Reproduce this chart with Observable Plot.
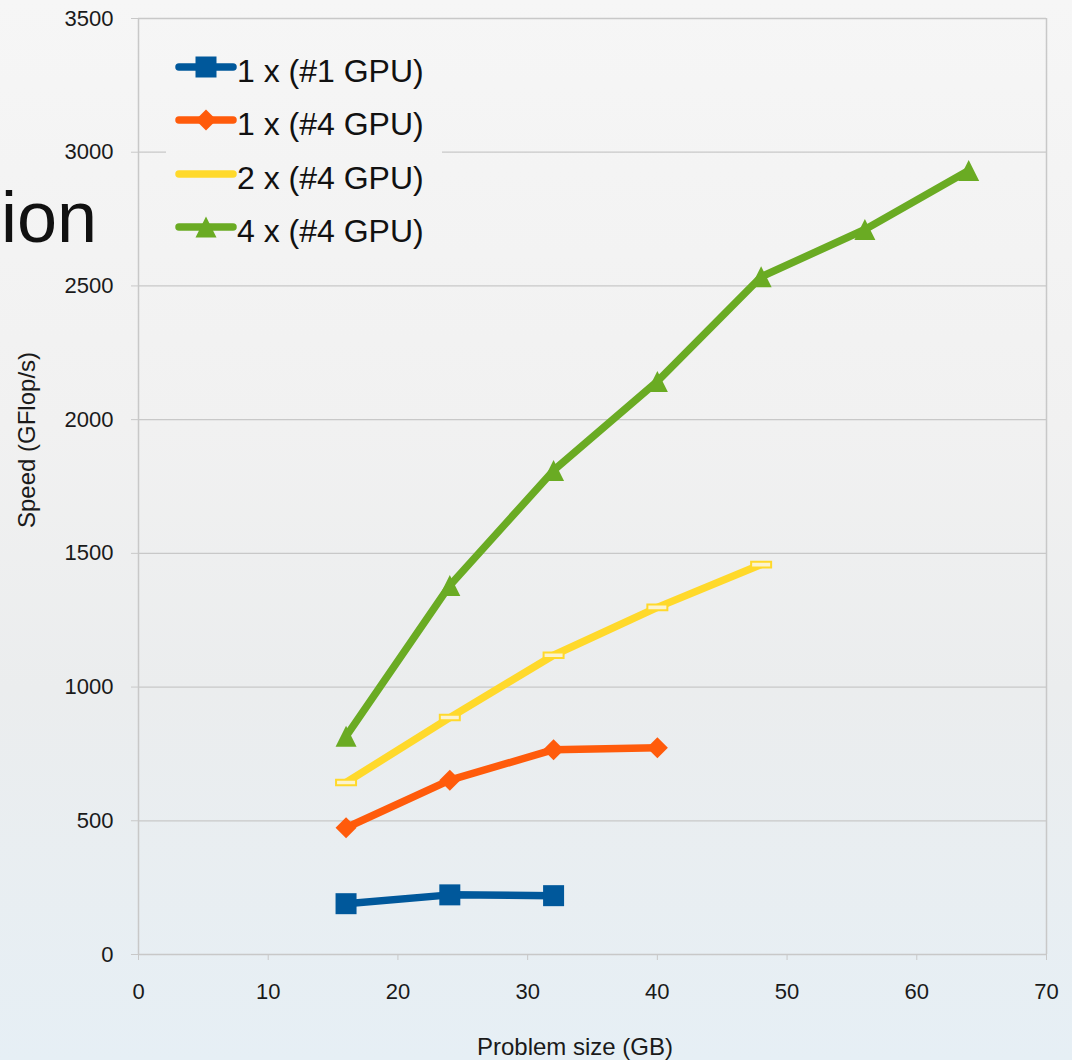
<!DOCTYPE html>
<html>
<head>
<meta charset="utf-8">
<script src="https://cdn.jsdelivr.net/npm/d3@7"></script>
<script src="https://cdn.jsdelivr.net/npm/@observablehq/plot@0.6"></script>
<style>
  html, body { margin: 0; padding: 0; }
  body { width: 1072px; height: 1060px; overflow: hidden;
         background: linear-gradient(#f6f6f6 0%, #f1f1f1 40%, #ebedee 65%, #e6eff5 100%); }
  #chart svg { display: block; }
</style>
</head>
<body>
<div id="chart"></div>
<script>
// Problem sizes (GB) measured for each configuration
const problemSize = [16, 24, 32, 40, 48, 56, 64];

// Speed (GFlop/s) per configuration
const speed1x1GPU = [190, 223, 220];
const speed1x4GPU = [474, 652, 766, 773];
const speed2x4GPU = [643, 886, 1119, 1298, 1458];
const speed4x4GPU = [816, 1380, 1810, 2143, 2534, 2711, 2932];

const seriesNames = ["1 x (#1 GPU)", "1 x (#4 GPU)", "2 x (#4 GPU)", "4 x (#4 GPU)"];
const seriesColors = ["#00589b", "#ff5b0b", "#ffd92b", "#6aab23"];

const xTicks = [0, 10, 20, 30, 40, 50, 60, 70];
const yTicks = [0, 500, 1000, 1500, 2000, 2500, 3000, 3500];

const FONT = "'Liberation Sans', Arial, Helvetica, sans-serif";

// Marker shapes; the half-width is derived from the dot radius
const half = size => Math.sqrt(size / Math.PI);
const squareSym = { draw(ctx, size) { const r = half(size); ctx.rect(-r, -r, 2 * r, 2 * r); } };
const diamondSym = { draw(ctx, size) { const r = half(size);
  ctx.moveTo(0, -r); ctx.lineTo(r, 0); ctx.lineTo(0, r); ctx.lineTo(-r, 0); ctx.closePath(); } };
const dashSym = { draw(ctx, size) { const r = half(size); const h = r * 0.28;
  ctx.rect(-r, -h, 2 * r, 2 * h); } };
const triangleSym = { draw(ctx, size) { const r = half(size);
  ctx.moveTo(0, -r); ctx.lineTo(r, r); ctx.lineTo(-r, r); ctx.closePath(); } };

const seriesValues = [speed1x1GPU, speed1x4GPU, speed2x4GPU, speed4x4GPU];
const seriesSymbols = [squareSym, diamondSym, dashSym, triangleSym];

const rows = seriesValues.map((vals, i) =>
  vals.map((v, j) => ({ size: problemSize[j], speed: v, series: seriesNames[i] })));

const seriesMarks = rows.flatMap((data, i) => [
  Plot.line(data, { x: "size", y: "speed", stroke: seriesColors[i], strokeWidth: 7.5,
                    strokeLinejoin: "round", strokeLinecap: "butt" }),
  i === 2
    ? Plot.dot(data, { x: "size", y: "speed", symbol: seriesSymbols[i], r: 10,
                       fill: "#fbf3cf", stroke: seriesColors[i], strokeWidth: 2 })
    : Plot.dot(data, { x: "size", y: "speed", symbol: seriesSymbols[i], r: 10.5,
                       fill: seriesColors[i], stroke: "none" })
]);

const gridColor = "#c8c8c8";

const chart = Plot.plot({
  width: 1072,
  height: 1060,
  marginLeft: 138,
  marginRight: 26,
  marginTop: 18,
  marginBottom: 106,
  style: { fontFamily: FONT, fontSize: "22px", color: "#1a1a1a", background: "transparent", overflow: "visible" },
  x: { domain: [0, 70] },
  y: { domain: [0, 3500] },
  marks: [
    Plot.gridY(yTicks, { stroke: gridColor, strokeOpacity: 1, strokeWidth: 1.3 }),
    Plot.ruleX([0, 70], { stroke: gridColor, strokeWidth: 1.5 }),
    Plot.axisY(yTicks, { tickSize: 7, tickPadding: 18, stroke: gridColor, fill: "#1a1a1a",
                         label: null, fontSize: 22, tickFormat: d => String(d) }),
    Plot.axisX(xTicks, { tickSize: 6, tickPadding: 23, stroke: gridColor, fill: "#1a1a1a",
                         label: null, fontSize: 22, tickFormat: d => String(d) }),
    ...seriesMarks
  ]
});

document.getElementById("chart").appendChild(chart);

const svg = d3.select(chart);

// Page gradient, reused so the legend box blends into the backdrop
const grad = svg.insert("defs", ":first-child")
  .append("linearGradient")
  .attr("id", "page-bg").attr("gradientUnits", "userSpaceOnUse")
  .attr("x1", 0).attr("y1", 0).attr("x2", 0).attr("y2", 1060);
[["0%", "#f6f6f6"], ["40%", "#f1f1f1"], ["65%", "#ebedee"], ["100%", "#e6eff5"]]
  .forEach(([o, c]) => grad.append("stop").attr("offset", o).attr("stop-color", c));

// Fragment of the slide title sitting behind the chart
svg.insert("text", "defs + *")
  .attr("x", 1).attr("y", 242)
  .attr("text-anchor", "start")
  .attr("font-family", FONT).attr("font-size", 72).attr("fill", "#111")
  .text("ion");

// Axis titles
svg.append("text")
  .attr("transform", "translate(35,440) rotate(-90)")
  .attr("text-anchor", "middle")
  .attr("font-family", FONT).attr("font-size", 24).attr("fill", "#1a1a1a")
  .text("Speed (GFlop/s)");

svg.append("text")
  .attr("x", 575).attr("y", 1055)
  .attr("text-anchor", "middle")
  .attr("font-family", FONT).attr("font-size", 24).attr("fill", "#1a1a1a")
  .text("Problem size (GB)");

// Legend box in the upper-left corner of the plot area
const legend = svg.append("g");
legend.append("rect")
  .attr("x", 166).attr("y", 36).attr("width", 276).attr("height", 222)
  .attr("fill", "url(#page-bg)");

const rowY = [67, 120, 174, 227];
seriesNames.forEach((name, i) => {
  const y = rowY[i];
  legend.append("line")
    .attr("x1", 179).attr("x2", 233).attr("y1", y).attr("y2", y)
    .attr("stroke", seriesColors[i]).attr("stroke-width", 7.5).attr("stroke-linecap", "round");
  if (i !== 2) {
    legend.append("path")
      .attr("transform", `translate(206,${y})`)
      .attr("d", d3.symbol(seriesSymbols[i], Math.PI * 10.5 * 10.5)())
      .attr("fill", seriesColors[i]);
  }
  legend.append("text")
    .attr("x", 237).attr("y", y + 15)
    .attr("text-anchor", "start")
    .attr("font-family", FONT).attr("font-size", 32).attr("fill", "#111")
    .text(name);
});
</script>
</body>
</html>
